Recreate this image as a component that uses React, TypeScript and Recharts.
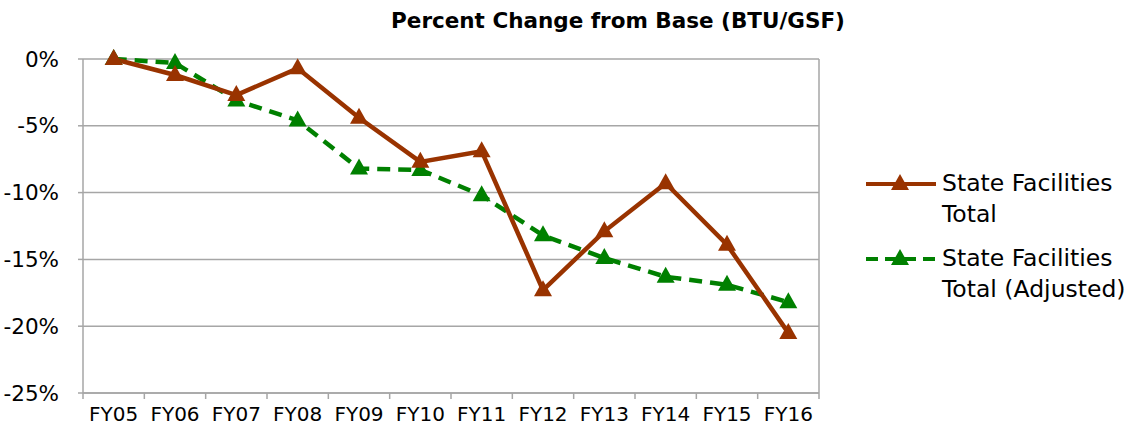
import React from "react";
import { LineChart, Line, XAxis, YAxis, CartesianGrid } from "recharts";

document.body.style.margin = "0";

const years = ["FY05", "FY06", "FY07", "FY08", "FY09", "FY10", "FY11", "FY12", "FY13", "FY14", "FY15", "FY16"];
const stateTotal = [0, -1.2, -2.7, -0.7, -4.4, -7.7, -6.9, -17.3, -12.9, -9.3, -13.9, -20.5];
const stateAdjusted = [0, -0.3, -3.1, -4.6, -8.2, -8.3, -10.2, -13.2, -14.9, -16.3, -16.9, -18.2];
const yTicks = [0, -5, -10, -15, -20, -25];

const data = years.map((name, i) => ({ name, total: stateTotal[i], adjusted: stateAdjusted[i] }));

const RED = "#993300";
const GREEN = "#008000";
const FONT = "'DejaVu Sans', sans-serif";

const W = 1140;
const H = 430;
const margin = { top: 59, right: 321, left: 0, bottom: 0 };
const Y_WIDTH = 83;
const band = (W - margin.right - Y_WIDTH) / years.length;

const Triangle = (props: any) => {
  const { cx, cy, fill } = props;
  if (cx == null || cy == null) return null;
  return <polygon points={`${cx},${cy - 10} ${cx - 9},${cy + 6} ${cx + 9},${cy + 6}`} fill={fill} />;
};

const XTick = (props: any) => {
  const { x, y, payload, index } = props;
  return (
    <g>
      <line x1={x - band / 2} y1={y - 8} x2={x - band / 2} y2={y - 2} stroke="#a6a6a6" strokeWidth={1.5} />
      {index === years.length - 1 && (
        <line x1={x + band / 2} y1={y - 8} x2={x + band / 2} y2={y - 2} stroke="#a6a6a6" strokeWidth={1.5} />
      )}
      <text x={x} y={y + 20} textAnchor="middle" fontSize={20} fontFamily={FONT} fill="#000">
        {payload.value}
      </text>
    </g>
  );
};

const LegendBlock = () => (
  <div style={{ position: "absolute", left: 863, top: 168, fontFamily: FONT, fontSize: 23.5, lineHeight: "31px", color: "#000" }}>
    {[
      { color: RED, dash: undefined, lines: ["State Facilities", "Total"] },
      { color: GREEN, dash: "12 7", lines: ["State Facilities", "Total (Adjusted)"] },
    ].map((item, i) => (
      <div key={i} style={{ display: "flex", alignItems: "flex-start", marginBottom: i === 0 ? 13 : 0 }}>
        <svg width={76} height={31} style={{ flexShrink: 0 }}>
          <line x1={3} y1={16} x2={73} y2={16} stroke={item.color} strokeWidth={4} strokeDasharray={item.dash} />
          <polygon points={`37,6 28,22 46,22`} fill={item.color} />
        </svg>
        <div style={{ marginLeft: 3 }}>
          {item.lines.map((l) => (
            <div key={l}>{l}</div>
          ))}
        </div>
      </div>
    ))}
  </div>
);

export default function App() {
  return (
    <div style={{ position: "relative", width: W, height: H, background: "#fff" }}>
      <div
        style={{
          position: "absolute",
          top: 8,
          left: 0,
          width: 1236,
          textAlign: "center",
          fontFamily: FONT,
          fontWeight: "bold",
          fontSize: 21.5,
          color: "#000",
        }}
      >
        Percent Change from Base (BTU/GSF)
      </div>
      <LineChart width={W} height={H} data={data} margin={margin}>
        <CartesianGrid
          stroke="#a6a6a6"
          strokeWidth={1.5}
          verticalCoordinatesGenerator={({ offset }: any) => [offset.left + offset.width]}
        />
        <XAxis
          dataKey="name"
          height={H - 393}
          padding={{ left: band / 2, right: band / 2 }}
          axisLine={{ stroke: "#a6a6a6", strokeWidth: 1.5 }}
          tickLine={false}
          tick={<XTick />}
          interval={0}
        />
        <YAxis
          width={Y_WIDTH}
          domain={[-25, 0]}
          ticks={yTicks}
          interval={0}
          tickFormatter={(v: number) => `${v}%`}
          axisLine={{ stroke: "#a6a6a6", strokeWidth: 1.5 }}
          tickLine={{ stroke: "#a6a6a6", strokeWidth: 1.5 }}
          tickSize={5}
          tickMargin={19}
          tick={{ fontSize: 21.5, fontFamily: FONT, fill: "#000" }}
        />
        <Line
          dataKey="adjusted"
          stroke={GREEN}
          strokeWidth={4.5}
          strokeDasharray="13 8"
          dot={<Triangle fill={GREEN} />}
          activeDot={false}
          isAnimationActive={false}
        />
        <Line
          dataKey="total"
          stroke={RED}
          strokeWidth={4.5}
          dot={<Triangle fill={RED} />}
          activeDot={false}
          isAnimationActive={false}
        />
      </LineChart>
      <LegendBlock />
    </div>
  );
}
